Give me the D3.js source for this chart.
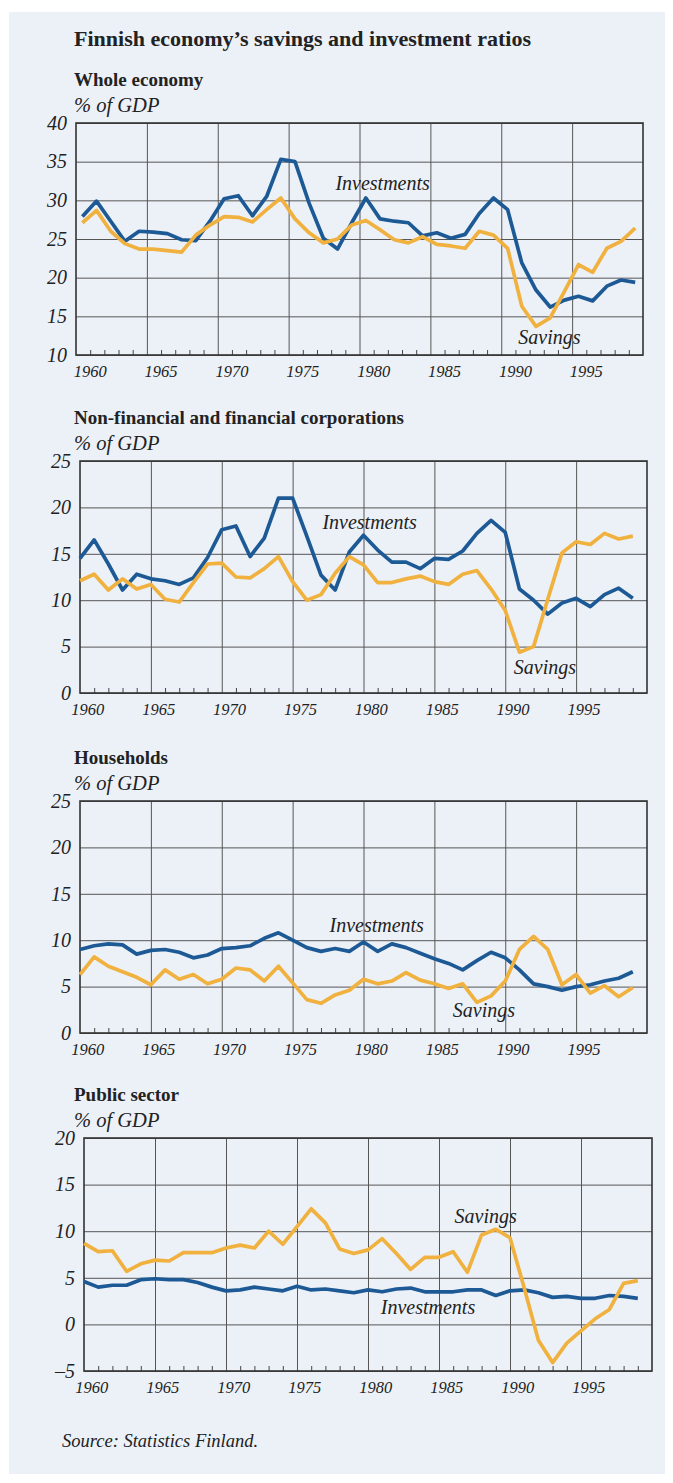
<!DOCTYPE html>
<html>
<head>
<meta charset="utf-8">
<script src="https://cdn.jsdelivr.net/npm/d3@7"></script>
<style>
  body { margin: 0; background: #ffffff; }
  svg { display: block; }
  text { font-family: "Liberation Serif", "DejaVu Serif", serif; fill: #222; }
</style>
</head>
<body>
<div id="chart"></div>
<script>

// years on the x axis
let years = [1960, 1961, 1962, 1963, 1964, 1965, 1966, 1967, 1968, 1969,
             1970, 1971, 1972, 1973, 1974, 1975, 1976, 1977, 1978, 1979,
             1980, 1981, 1982, 1983, 1984, 1985, 1986, 1987, 1988, 1989,
             1990, 1991, 1992, 1993, 1994, 1995, 1996, 1997, 1998, 1999];
let yearLabels = [1960, 1965, 1970, 1975, 1980, 1985, 1990, 1995];

// whole economy, % of GDP
let wholeInvestments = [27.9, 29.9, 27.3, 24.7, 26.0, 25.9, 25.7, 24.9, 24.8, 27.3,
                        30.2, 30.6, 28.0, 30.5, 35.3, 35.0, 29.6, 25.1, 23.7, 27.1,
                        30.3, 27.6, 27.3, 27.1, 25.4, 25.8, 25.1, 25.6, 28.3, 30.3,
                        28.8, 21.9, 18.4, 16.2, 17.1, 17.6, 17.0, 18.9, 19.7, 19.4];
let wholeSavings = [27.1, 28.7, 26.0, 24.4, 23.7, 23.7, 23.5, 23.3, 25.5, 26.8,
                    27.9, 27.8, 27.2, 28.8, 30.3, 27.6, 25.8, 24.5, 25.0, 26.8,
                    27.4, 26.2, 24.9, 24.5, 25.3, 24.3, 24.1, 23.8, 26.0, 25.5,
                    23.8, 16.3, 13.7, 14.8, 18.2, 21.7, 20.7, 23.8, 24.7, 26.4];

// non-financial and financial corporations
let corpInvestments = [14.5, 16.5, 13.9, 11.1, 12.8, 12.3, 12.1, 11.7, 12.4, 14.6,
                       17.6, 18.0, 14.7, 16.7, 21.0, 21.0, 16.9, 12.7, 11.1, 15.2,
                       17.0, 15.4, 14.1, 14.1, 13.4, 14.5, 14.4, 15.3, 17.2, 18.6,
                       17.3, 11.2, 10.0, 8.5, 9.7, 10.2, 9.3, 10.6, 11.3, 10.2];
let corpSavings = [12.1, 12.8, 11.1, 12.3, 11.2, 11.7, 10.1, 9.8, 11.9, 13.9,
                   14.0, 12.5, 12.4, 13.4, 14.7, 12.0, 10.0, 10.6, 12.9, 14.7,
                   13.8, 11.9, 11.9, 12.3, 12.6, 12.0, 11.7, 12.8, 13.2, 11.2,
                   8.9, 4.4, 5.0, 10.1, 15.1, 16.3, 16.0, 17.2, 16.6, 16.9];

// households
let houseInvestments = [9.0, 9.4, 9.6, 9.5, 8.5, 8.9, 9.0, 8.7, 8.1, 8.4,
                        9.1, 9.2, 9.4, 10.2, 10.8, 10.0, 9.2, 8.8, 9.1, 8.8,
                        9.8, 8.8, 9.6, 9.2, 8.6, 8.0, 7.5, 6.8, 7.8, 8.7,
                        8.1, 6.8, 5.3, 5.0, 4.6, 5.0, 5.2, 5.6, 5.9, 6.6];
let houseSavings = [6.3, 8.2, 7.2, 6.6, 6.0, 5.2, 6.8, 5.8, 6.3, 5.3,
                    5.8, 7.0, 6.8, 5.6, 7.2, 5.4, 3.6, 3.2, 4.1, 4.6,
                    5.8, 5.3, 5.6, 6.5, 5.7, 5.3, 4.8, 5.3, 3.3, 4.0,
                    5.6, 9.0, 10.4, 9.0, 5.2, 6.3, 4.3, 5.1, 3.9, 4.9];

// public sector
let publicInvestments = [4.6, 4.0, 4.2, 4.2, 4.8, 4.9, 4.8, 4.8, 4.5, 4.0,
                         3.6, 3.7, 4.0, 3.8, 3.6, 4.1, 3.7, 3.8, 3.6, 3.4,
                         3.7, 3.5, 3.8, 3.9, 3.5, 3.5, 3.5, 3.7, 3.7, 3.1,
                         3.6, 3.7, 3.4, 2.9, 3.0, 2.8, 2.8, 3.1, 3.0, 2.8];
let publicSavings = [8.7, 7.8, 7.9, 5.7, 6.5, 6.9, 6.8, 7.7, 7.7, 7.7,
                     8.2, 8.5, 8.2, 10.0, 8.6, 10.5, 12.4, 10.9, 8.1, 7.6,
                     8.0, 9.2, 7.6, 5.9, 7.2, 7.2, 7.8, 5.6, 9.6, 10.2,
                     9.3, 3.9, -1.7, -4.1, -2.0, -0.7, 0.6, 1.6, 4.4, 4.7];

let wholeTicks = [10, 15, 20, 25, 30, 35, 40];
let corpTicks = [0, 5, 10, 15, 20, 25];
let houseTicks = [0, 5, 10, 15, 20, 25];
let publicTicks = [-5, 0, 5, 10, 15, 20];

let width = 673;
let height = 1483;
let blue = "#1d5a95";
let orange = "#f0b13f";

let svg = d3.select("#chart")
    .append("svg")
    .attr("width", width)
    .attr("height", height);

svg.append("rect")
    .attr("x", 9).attr("y", 12)
    .attr("width", 656).attr("height", 1462)
    .attr("fill", "#ecf1f8");

svg.append("text")
    .attr("x", 74).attr("y", 46)
    .attr("font-size", 22)
    .attr("font-weight", "bold")
    .text("Finnish economy\u2019s savings and investment ratios");

// layout of every panel (pixel box + quirks seen in the original)
let panels = [
    { name: "Whole economy", inv: wholeInvestments, sav: wholeSavings, ticks: wholeTicks,
      left: 76, right: 643, top: 123, bottom: 355, shift: 0.45,
      invLabel: [1978.3, 31.4], savLabel: [1991.2, 11.45] },
    { name: "Non-financial and financial corporations", inv: corpInvestments, sav: corpSavings, ticks: corpTicks,
      left: 80, right: 647, top: 461, bottom: 693, shift: 0,
      invLabel: [1977.1, 17.7], savLabel: [1990.6, 2.0] },
    { name: "Households", inv: houseInvestments, sav: houseSavings, ticks: houseTicks,
      left: 80, right: 647, top: 801, bottom: 1033, shift: 0,
      invLabel: [1977.6, 10.85], savLabel: [1986.3, 1.74] },
    { name: "Public sector", inv: publicInvestments, sav: publicSavings, ticks: publicTicks,
      left: 84, right: 652, top: 1138, bottom: 1371, shift: 0,
      invLabel: [1980.9, 1.16], savLabel: [1986.1, 10.85] }
];

panels.forEach(function (p) {
    let g = svg.append("g");

    let xScale = d3.scaleLinear()
        .domain([1960, 2000])
        .range([p.left, p.right]);

    let yScale = d3.scaleLinear()
        .domain(d3.extent(p.ticks))
        .range([p.bottom, p.top]);

    // headings
    g.append("text")
        .attr("x", 74).attr("y", p.top - 37.5)
        .attr("font-size", 19)
        .attr("font-weight", "bold")
        .text(p.name);
    g.append("text")
        .attr("x", 74).attr("y", p.top - 11)
        .attr("font-size", 20.5)
        .attr("font-style", "italic")
        .text("% of GDP");

    // horizontal grid
    g.append("g")
        .attr("transform", "translate(" + p.left + ",0)")
        .call(d3.axisLeft(yScale).tickValues(p.ticks)
            .tickSize(-(p.right - p.left)).tickFormat(""))
        .call(function (a) {
            a.select(".domain").remove();
            a.selectAll("line").attr("stroke", "#555").attr("stroke-width", 1);
        });

    // vertical grid every 5 years
    let fiveYears = [1965, 1970, 1975, 1980, 1985, 1990, 1995];
    g.append("g")
        .attr("transform", "translate(0," + p.bottom + ")")
        .call(d3.axisBottom(xScale).tickValues(fiveYears)
            .tickSize(-(p.bottom - p.top)).tickFormat(""))
        .call(function (a) {
            a.select(".domain").remove();
            a.selectAll("line").attr("stroke", "#555").attr("stroke-width", 1);
        });

    // small yearly ticks on the bottom axis
    let minor = years.filter(function (y) { return y % 5 !== 0; });
    g.append("g")
        .attr("transform", "translate(0," + p.bottom + ")")
        .call(d3.axisBottom(xScale).tickValues(minor)
            .tickSize(-5).tickFormat(""))
        .call(function (a) {
            a.select(".domain").remove();
            a.selectAll("line").attr("stroke", "#444").attr("stroke-width", 1);
        });

    // frame
    g.append("rect")
        .attr("x", p.left).attr("y", p.top)
        .attr("width", p.right - p.left).attr("height", p.bottom - p.top)
        .attr("fill", "none")
        .attr("stroke", "#333")
        .attr("stroke-width", 1.6);

    // y labels
    g.selectAll(".ylab")
        .data(p.ticks)
        .enter().append("text")
        .attr("x", p.left - 9)
        .attr("y", function (d) { return yScale(d); })
        .attr("dy", "0.34em")
        .attr("text-anchor", "end")
        .attr("font-size", 20)
        .attr("font-style", "italic")
        .text(function (d) { return d < 0 ? "\u2013" + Math.abs(d) : d; });

    // x labels, centred on the middle of the year
    g.selectAll(".xlab")
        .data(yearLabels)
        .enter().append("text")
        .attr("x", function (d) { return xScale(d + p.shift + 0.55); })
        .attr("y", p.bottom + 22)
        .attr("text-anchor", "middle")
        .attr("font-size", 16.5)
        .attr("font-style", "italic")
        .text(function (d) { return d; });

    let line = function (values) {
        return d3.line()
            .x(function (d, i) { return xScale(years[i] + p.shift); })
            .y(function (d) { return yScale(d); })(values);
    };

    g.append("path")
        .attr("d", line(p.inv))
        .attr("fill", "none")
        .attr("stroke", blue)
        .attr("stroke-width", 3.7)
        .attr("stroke-linejoin", "round");

    g.append("path")
        .attr("d", line(p.sav))
        .attr("fill", "none")
        .attr("stroke", orange)
        .attr("stroke-width", 3.7)
        .attr("stroke-linejoin", "round");

    g.append("text")
        .attr("x", xScale(p.invLabel[0])).attr("y", yScale(p.invLabel[1]))
        .attr("font-size", 20)
        .attr("font-style", "italic")
        .text("Investments");
    g.append("text")
        .attr("x", xScale(p.savLabel[0])).attr("y", yScale(p.savLabel[1]))
        .attr("font-size", 20)
        .attr("font-style", "italic")
        .text("Savings");
});

svg.append("text")
    .attr("x", 62).attr("y", 1447)
    .attr("font-size", 18.5)
    .attr("font-style", "italic")
    .text("Source: Statistics Finland.");

</script>
</body>
</html>
